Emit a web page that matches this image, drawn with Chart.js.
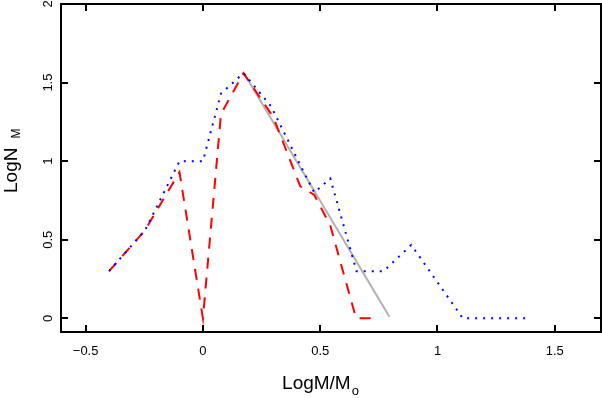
<!DOCTYPE html>
<html>
<head>
<meta charset="utf-8">
<script src="https://cdn.jsdelivr.net/npm/chart.js@4"></script>
<style>
  html, body { margin: 0; padding: 0; background: #fff; }
</style>
</head>
<body>
<canvas id="chart" width="602" height="398"></canvas>
<script>
// axis ticks
const xTicks = [-0.5, 0, 0.5, 1, 1.5];
const xTickLabels = ['\u22120.5', '0', '0.5', '1', '1.5'];
const yTicks = [0, 0.5, 1, 1.5, 2];
const yTickLabels = ['0', '0.5', '1', '1.5', '2'];

// red dashed curve
const redX = [-0.4, -0.246, -0.1, 0, 0.077, 0.173, 0.30, 0.415, 0.475, 0.543, 0.653, 0.743];
const redY = [0.30, 0.562, 0.93, 0.0, 1.30, 1.56, 1.28, 0.84, 0.785, 0.59, 0.0, 0.0];

// blue dotted curve
const blueX = [-0.4, -0.246, -0.1, 0, 0.077, 0.173, 0.29, 0.43, 0.475, 0.543, 0.655, 0.77, 0.888, 1.108, 1.374];
const blueY = [0.30, 0.562, 1.0, 1.0, 1.43, 1.56, 1.35, 0.93, 0.80, 0.89, 0.30, 0.30, 0.467, 0.0, 0.0];

// grey straight fit
const fitX = [0.175, 0.795];
const fitY = [1.56, 0.01];

function pts(xs, ys) {
    return xs.map((x, i) => ({ x: x, y: ys[i] }));
}

const FONT = '"Liberation Sans", Arial, Helvetica, sans-serif';

// frame, inward ticks, tick labels and axis titles
const framePlugin = {
    id: 'frame',
    afterDraw(chart) {
        const ctx = chart.ctx;
        const a = chart.chartArea;
        const sx = chart.scales.x;
        const sy = chart.scales.y;
        const tl = 7;
        ctx.save();
        ctx.strokeStyle = '#000';
        ctx.lineWidth = 2;
        ctx.strokeRect(a.left, a.top, a.right - a.left, a.bottom - a.top);

        ctx.beginPath();
        xTicks.forEach(v => {
            const px = Math.round(sx.getPixelForValue(v));
            ctx.moveTo(px, a.bottom); ctx.lineTo(px, a.bottom - tl);
            ctx.moveTo(px, a.top); ctx.lineTo(px, a.top + tl);
        });
        yTicks.forEach(v => {
            const py = Math.round(sy.getPixelForValue(v));
            ctx.moveTo(a.left, py); ctx.lineTo(a.left + tl, py);
            ctx.moveTo(a.right, py); ctx.lineTo(a.right - tl, py);
        });
        ctx.stroke();

        ctx.fillStyle = '#000';
        ctx.font = '13px ' + FONT;
        ctx.textAlign = 'center';
        ctx.textBaseline = 'alphabetic';
        xTicks.forEach((v, i) => {
            ctx.fillText(xTickLabels[i], sx.getPixelForValue(v), 355);
        });
        yTicks.forEach((v, i) => {
            ctx.save();
            ctx.translate(51.5, sy.getPixelForValue(v));
            ctx.rotate(-Math.PI / 2);
            ctx.fillText(yTickLabels[i], 0, 0);
            ctx.restore();
        });

        // x title: LogM/M with subscript o
        ctx.textAlign = 'left';
        ctx.font = '19px ' + FONT;
        const main = 'LogM/M';
        const w1 = ctx.measureText(main).width;
        ctx.font = '13px ' + FONT;
        const w2 = ctx.measureText('o').width;
        let x0 = 320 - (w1 + w2) / 2;
        ctx.font = '19px ' + FONT;
        ctx.fillText(main, x0, 389);
        ctx.font = '13px ' + FONT;
        ctx.fillText('o', x0 + w1 + 1, 395);

        // y title: LogN with subscript M
        ctx.save();
        ctx.translate(16.7, 193);
        ctx.rotate(-Math.PI / 2);
        ctx.font = '19px ' + FONT;
        ctx.fillText('LogN', 0, 0);
        const w3 = ctx.measureText('LogN').width;
        ctx.font = '12px ' + FONT;
        ctx.fillText('M', w3 + 9, 3);
        ctx.restore();

        ctx.restore();
    }
};

const config = {
    type: 'scatter',
    data: {
        datasets: [
            {
                data: pts(blueX, blueY),
                showLine: true,
                borderColor: '#0000ff',
                borderWidth: 2,
                borderDash: [2, 6],
                borderCapStyle: 'butt',
                pointRadius: 0,
                tension: 0
            },
            {
                data: pts(redX, redY),
                showLine: true,
                borderColor: '#ff0000',
                borderWidth: 2,
                borderDash: [11, 9],
                borderCapStyle: 'butt',
                pointRadius: 0,
                tension: 0
            },
            {
                data: pts(fitX, fitY),
                showLine: true,
                borderColor: '#b0b0b0',
                borderWidth: 2,
                pointRadius: 0,
                tension: 0
            }
        ]
    },
    options: {
        responsive: false,
        animation: false,
        devicePixelRatio: 1,
        events: [],
        layout: { padding: { left: 61, right: 1, top: 4, bottom: 66 } },
        plugins: {
            legend: { display: false },
            tooltip: { enabled: false }
        },
        scales: {
            x: { type: 'linear', min: -0.605, max: 1.697, display: false },
            y: { type: 'linear', min: -0.087, max: 2.0, display: false }
        }
    },
    plugins: [framePlugin]
};

window.onload = function() {
    const ctx = document.getElementById('chart').getContext('2d');
    new Chart(ctx, config);
};
</script>
</body>
</html>
